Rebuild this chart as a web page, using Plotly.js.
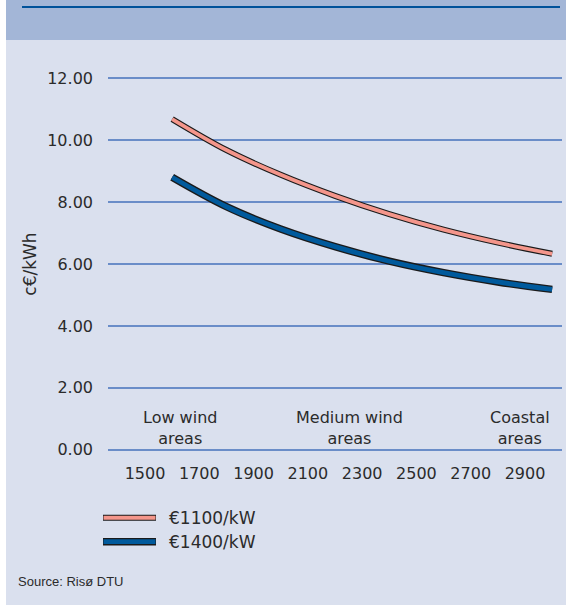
<!DOCTYPE html>
<html>
<head>
<meta charset="utf-8">
<script src="https://cdn.plot.ly/plotly-3.0.1.min.js"></script>
<style>
  html, body { margin: 0; padding: 0; background: #ffffff; }
  #wrap { position: relative; width: 566px; height: 605px; overflow: hidden; background: #ffffff; }
  #band { position: absolute; left: 6px; top: 0; width: 560px; height: 40px; background: #a3b6d7; }
  #rule { position: absolute; left: 22px; top: 6px; width: 538px; height: 2px; background: #00529a; }
  #main { position: absolute; left: 6px; top: 40px; width: 560px; height: 565px; background: #dae0ee; }
  #chart { position: absolute; left: 0; top: 0; width: 566px; height: 605px; }
</style>
</head>
<body>
<div id="wrap">
  <div id="band"></div>
  <div id="rule"></div>
  <div id="main"></div>
  <div id="chart"></div>
</div>
<script>
// ---- data ----
const windHours = [1600, 1800, 2000, 2200, 2400, 2600, 2800, 3000];
const cost1100 = [10.68, 9.68, 8.88, 8.20, 7.61, 7.11, 6.69, 6.33];
const cost1400 = [8.80, 7.85, 7.13, 6.56, 6.09, 5.72, 5.42, 5.18];
const seriesNames = ['€1100/kW', '€1400/kW'];
const xTickVals = [1500, 1700, 1900, 2100, 2300, 2500, 2700, 2900];
const yTickVals = [0, 2, 4, 6, 8, 10, 12];
const windClassLabels = ['Low wind<br>areas', 'Medium wind<br>areas', 'Coastal<br>areas'];
const windClassX = [1630, 2255, 2880];
const yTitle = 'c€/kWh';
const sourceText = 'Source: Risø DTU';

// ---- styles ----
const FONT = 'DejaVu Sans, Verdana, sans-serif';
const TXT = '#2b2b2b';
const fills = ['#f4968b', '#005a9c'];
const outerW = [6, 7.5];
const innerW = [3.8, 4.8];

const series = [cost1100, cost1400];
const traces = [];
series.forEach((vals, i) => {
  traces.push({
    x: windHours, y: vals, type: 'scatter', mode: 'lines',
    line: { color: '#1a1a1a', width: outerW[i], shape: 'spline', smoothing: 1 },
    hoverinfo: 'skip', showlegend: false
  });
  traces.push({
    x: windHours, y: vals, type: 'scatter', mode: 'lines', name: seriesNames[i],
    line: { color: fills[i], width: innerW[i], shape: 'spline', smoothing: 1 },
    showlegend: false
  });
});

// plot area geometry (pixels) for paper-coordinate legend
const L = 108, R = 4, T = 71.8, B = 148.8;
const W = 566, H = 605;
const pw = W - L - R, ph = H - T - B;
const px = v => (v - L) / pw;
const py = v => (H - B - v) / ph;

const shapes = [];
const annotations = [];
const legendRows = [518, 542];
seriesNames.forEach((name, i) => {
  shapes.push({ type: 'line', xref: 'paper', yref: 'paper',
    x0: px(103), x1: px(156), y0: py(legendRows[i]), y1: py(legendRows[i]),
    line: { color: '#1a1a1a', width: outerW[i] } });
  shapes.push({ type: 'line', xref: 'paper', yref: 'paper',
    x0: px(103.5), x1: px(155.5), y0: py(legendRows[i]), y1: py(legendRows[i]),
    line: { color: fills[i], width: innerW[i] } });
  annotations.push({ xref: 'paper', yref: 'paper', x: px(167), y: py(legendRows[i]),
    xanchor: 'left', yanchor: 'middle', showarrow: false, text: name,
    font: { family: FONT, size: 17, color: TXT } });
});

windClassLabels.forEach((lab, i) => {
  annotations.push({ xref: 'x', yref: 'y', x: windClassX[i], y: 0.71,
    xanchor: 'center', yanchor: 'middle', align: 'center', showarrow: false,
    text: lab, font: { family: FONT, size: 16, color: TXT } });
});

annotations.push({ xref: 'paper', yref: 'paper', x: px(16), y: py(582),
  xanchor: 'left', yanchor: 'middle', showarrow: false, text: sourceText,
  font: { family: 'Liberation Sans, Arial, sans-serif', size: 13, color: TXT } });

const layout = {
  width: W, height: H,
  margin: { l: L, r: R, t: T, b: B, pad: 0 },
  paper_bgcolor: 'rgba(0,0,0,0)',
  plot_bgcolor: 'rgba(0,0,0,0)',
  showlegend: false,
  font: { family: FONT, size: 16, color: TXT },
  xaxis: {
    range: [1363.7, 3036.3],
    tickvals: xTickVals, ticktext: xTickVals.map(String),
    showgrid: false, zeroline: false, showline: false,
    ticks: '', ticklabelstandoff: 6,
    tickfont: { family: FONT, size: 16, color: TXT },
    fixedrange: true
  },
  yaxis: {
    range: [-0.2, 12.2],
    tickvals: yTickVals, ticktext: yTickVals.map(v => v.toFixed(2)),
    showgrid: true, gridcolor: '#6a8dc8', gridwidth: 2,
    zeroline: false, showline: false, ticks: '', ticklabelstandoff: 14,
    tickfont: { family: FONT, size: 16, color: TXT },
    title: { text: yTitle, font: { family: FONT, size: 17, color: TXT }, standoff: 6 },
    fixedrange: true
  },
  shapes: shapes,
  annotations: annotations
};

Plotly.newPlot('chart', traces, layout, { staticPlot: true, displayModeBar: false });
</script>
</body>
</html>
